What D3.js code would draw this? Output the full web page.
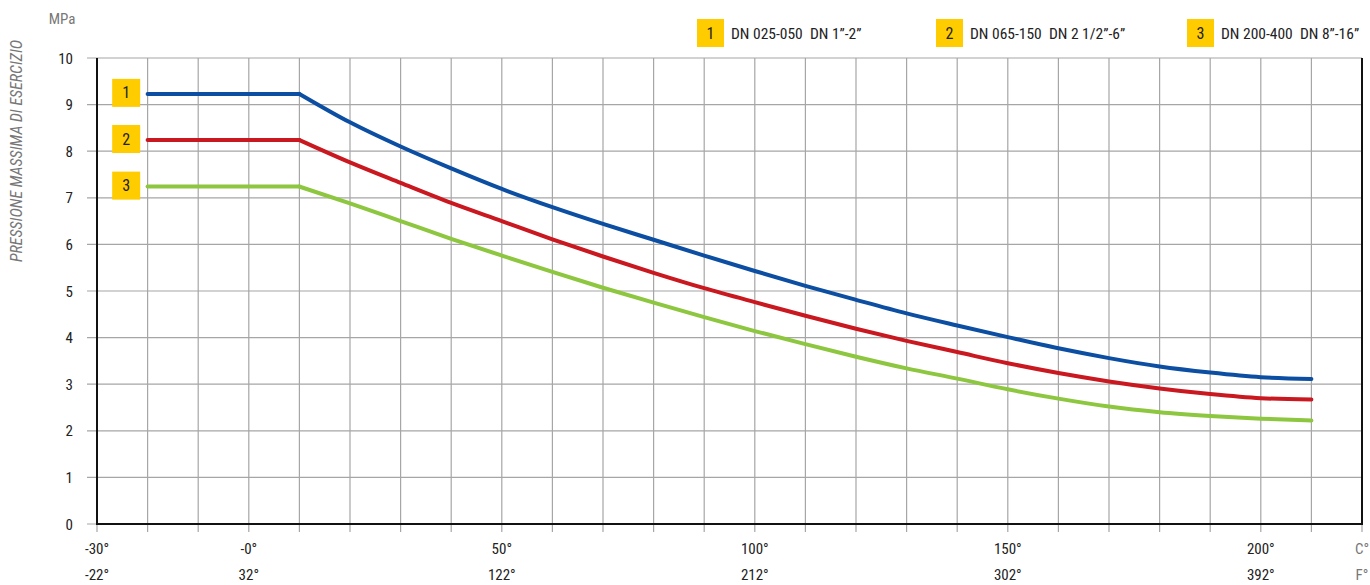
<!DOCTYPE html>
<html>
<head>
<meta charset="utf-8">
<script src="https://cdn.jsdelivr.net/npm/d3@7"></script>
<style>
  body { margin: 0; background: #fff; }
  text { font-family: "Liberation Sans Narrow", "Roboto Condensed", "Roboto", sans-serif; white-space: pre; }
</style>
</head>
<body>
<div id="chart"></div>
<script>
// temperatures (°C) at which the curves were read
const tempC = [-20, 10, 20, 30, 40, 50, 60, 70, 80, 90, 100, 110, 120, 130, 140, 150, 160, 170, 180, 190, 200, 210];
// max working pressure (MPa)
const dn025 = [9.23, 9.23, 8.62, 8.10, 7.63, 7.19, 6.80, 6.44, 6.10, 5.76, 5.43, 5.11, 4.81, 4.52, 4.26, 4.01, 3.77, 3.56, 3.38, 3.25, 3.15, 3.11];
const dn065 = [8.24, 8.24, 7.76, 7.32, 6.89, 6.50, 6.11, 5.74, 5.39, 5.06, 4.76, 4.47, 4.19, 3.93, 3.69, 3.45, 3.24, 3.06, 2.91, 2.79, 2.70, 2.67];
const dn200 = [7.24, 7.24, 6.88, 6.50, 6.12, 5.76, 5.41, 5.07, 4.75, 4.44, 4.14, 3.86, 3.59, 3.34, 3.12, 2.89, 2.69, 2.52, 2.40, 2.32, 2.26, 2.22];

const seriesNames = ["1", "2", "3"];
const legendLabels = ["DN 025-050  DN 1”-2”", "DN 065-150  DN 2 1/2”-6”", "DN 200-400  DN 8”-16”"];
const seriesColors = ["#0b4ea2", "#c9181f", "#8dc63f"];

const xTicksC = [-30, 0, 50, 100, 150, 200];
const xLabelsC = ["-30°", "-0°", "50°", "100°", "150°", "200°"];
const xLabelsF = ["-22°", "32°", "122°", "212°", "302°", "392°"];
const yTicks = [0, 1, 2, 3, 4, 5, 6, 7, 8, 9, 10];

const W = 1370, H = 585;
const margin = {top: 58, right: 8, bottom: 61, left: 97};
const width = W - margin.left - margin.right,
      height = H - margin.top - margin.bottom;

const svg = d3.select("#chart").append("svg")
    .attr("width", W).attr("height", H);
const g = svg.append("g")
    .attr("transform", "translate(" + margin.left + "," + margin.top + ")");

const x = d3.scaleLinear().domain([-30, 220]).range([0, width]);
const y = d3.scaleLinear().domain([0, 10]).range([height, 0]);

// vertical grid, every 10°
const vgrid = d3.range(-20, 220, 10);
g.append("g").selectAll("line").data(vgrid).enter().append("line")
    .attr("x1", d => x(d)).attr("x2", d => x(d))
    .attr("y1", 0).attr("y2", height + 8)
    .attr("stroke", "#a6a6a6").attr("stroke-width", 1.2);
// ticks below axis at -30 and 220
g.append("g").selectAll("line").data([-30, 220]).enter().append("line")
    .attr("x1", d => x(d)).attr("x2", d => x(d))
    .attr("y1", height).attr("y2", height + 8)
    .attr("stroke", "#a6a6a6").attr("stroke-width", 1.2);

// horizontal grid
g.append("g").selectAll("line").data(yTicks).enter().append("line")
    .attr("x1", -10).attr("x2", width)
    .attr("y1", d => y(d)).attr("y2", d => y(d))
    .attr("stroke", "#a6a6a6").attr("stroke-width", 1.2);

// frame
g.append("path")
    .attr("d", "M0,0V" + height + "H" + width + "V0")
    .attr("fill", "none").attr("stroke", "#111").attr("stroke-width", 2);

// y labels
g.append("g").selectAll("text").data(yTicks).enter().append("text")
    .attr("x", -24).attr("y", d => y(d) + 5.5)
    .attr("text-anchor", "end")
    .style("font-size", "15px").style("fill", "#222")
    .text(d => d);

// x labels (C and F rows)
g.append("g").selectAll("text").data(xTicksC).enter().append("text")
    .attr("x", d => x(d)).attr("y", height + 30)
    .attr("text-anchor", "middle")
    .style("font-size", "15px").style("fill", "#222")
    .text((d, i) => xLabelsC[i]);
g.append("g").selectAll("text").data(xTicksC).enter().append("text")
    .attr("x", d => x(d)).attr("y", height + 56)
    .attr("text-anchor", "middle")
    .style("font-size", "15px").style("fill", "#222")
    .text((d, i) => xLabelsF[i]);
g.append("text").attr("x", x(220)).attr("y", height + 30)
    .attr("text-anchor", "middle")
    .style("font-size", "15px").style("fill", "#777").text("C°");
g.append("text").attr("x", x(220)).attr("y", height + 56)
    .attr("text-anchor", "middle")
    .style("font-size", "15px").style("fill", "#777").text("F°");

// unit and title
svg.append("text").attr("x", 62).attr("y", 24)
    .attr("text-anchor", "middle")
    .style("font-size", "15px").style("fill", "#777").text("MPa");
svg.append("text")
    .attr("transform", "translate(22,151) rotate(-90)")
    .attr("text-anchor", "middle")
    .style("font-size", "16px").style("font-style", "italic").style("fill", "#777")
    .text("PRESSIONE MASSIMA DI ESERCIZIO");

// lines: straight plateau, then smooth decay
const allSeries = [dn025, dn065, dn200];
const flat = d3.line()
    .x((d, i) => x(tempC[i]))
    .y(d => y(d));
const decay = d3.line()
    .x((d, i) => x(tempC[i + 1]))
    .y(d => y(d))
    .curve(d3.curveMonotoneX);
const lines = g.append("g").selectAll("g").data(allSeries).enter().append("g")
    .attr("fill", "none")
    .attr("stroke", (d, i) => seriesColors[i])
    .attr("stroke-width", 4)
    .attr("stroke-linecap", "round")
    .attr("stroke-linejoin", "round");
lines.append("path").attr("d", d => flat(d.slice(0, 2)));
lines.append("path").attr("d", d => decay(d.slice(1)));

// numbered markers at line starts
const mk = g.append("g").selectAll("g").data(allSeries).enter().append("g")
    .attr("transform", d => "translate(" + x(-27) + "," + (y(d[0]) - 15) + ")");
mk.append("rect").attr("width", 28).attr("height", 28).attr("fill", "#ffcc00");
mk.append("text").attr("x", 14).attr("y", 19.5)
    .attr("text-anchor", "middle")
    .style("font-size", "16px").style("fill", "#222")
    .text((d, i) => seriesNames[i]);

// legend
const legendX = [697, 936, 1187];
const lg = svg.append("g").selectAll("g").data(seriesNames).enter().append("g")
    .attr("transform", (d, i) => "translate(" + legendX[i] + ",19)");
lg.append("rect").attr("width", 27).attr("height", 28).attr("fill", "#ffcc00");
lg.append("text").attr("x", 13.5).attr("y", 19.5)
    .attr("text-anchor", "middle")
    .style("font-size", "16px").style("fill", "#222").text(d => d);
lg.append("text").attr("x", 34).attr("y", 19.5)
    .style("font-size", "15.5px").style("fill", "#222")
    .text((d, i) => legendLabels[i]);
</script>
</body>
</html>
